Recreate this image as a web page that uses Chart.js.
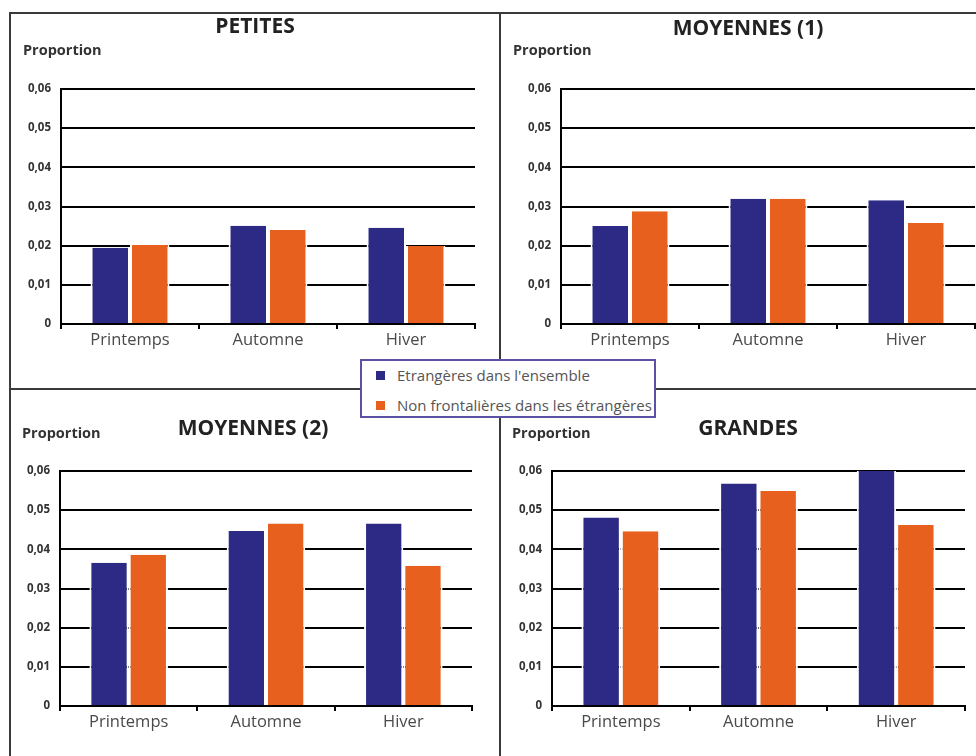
<!DOCTYPE html>
<html>
<head>
<meta charset="utf-8">
<script src="https://cdn.jsdelivr.net/npm/chart.js@4"></script>
<style>
  body { margin: 0; background: #fff; font-family: "Open Sans", sans-serif; }
  #page { position: relative; width: 976px; height: 756px; overflow: hidden; }
  .panel { position: absolute; }
  .line { position: absolute; background: #3a3a3a; z-index: 5; }
  .ylab { position: absolute; font-weight: bold; font-size: 14.5px; color: #333; z-index: 6; }
  .title { position: absolute; width: 300px; margin-left: -150px; text-align: center;
    font-weight: bold; font-size: 21px; line-height: 26px; color: #222; z-index: 6; }
  #legend { position: absolute; left: 360px; top: 359px; width: 292px; height: 55px;
    border: 2px solid #5b52a3; background: #fff; z-index: 10; }
  .item { position: absolute; left: 14px; font-size: 15px; color: #555; white-space: nowrap; }
  .item span { display: inline-block; width: 9px; height: 9px; margin-right: 12px; vertical-align: 1px; }
</style>
</head>
<body>
<div id="page">
  <div class="panel" style="left:10px;top:13px;width:490px;height:377px"><canvas id="c1"></canvas></div>
  <div class="panel" style="left:500px;top:13px;width:476px;height:377px"><canvas id="c2"></canvas></div>
  <div class="panel" style="left:10px;top:390px;width:490px;height:366px"><canvas id="c3"></canvas></div>
  <div class="panel" style="left:500px;top:390px;width:476px;height:366px"><canvas id="c4"></canvas></div>

  <div class="line" style="left:10px;top:12px;width:966px;height:2px"></div>
  <div class="line" style="left:9px;top:12px;width:2px;height:744px"></div>
  <div class="line" style="left:499px;top:12px;width:2px;height:744px"></div>
  <div class="line" style="left:10px;top:388px;width:966px;height:2px"></div>

  <div class="title" style="left:255px;top:12px">PETITES</div>
  <div class="title" style="left:748px;top:14px">MOYENNES (1)</div>
  <div class="title" style="left:253px;top:414px">MOYENNES (2)</div>
  <div class="title" style="left:748px;top:414px">GRANDES</div>

  <div class="ylab" style="left:23px;top:40px">Proportion</div>
  <div class="ylab" style="left:513px;top:40px">Proportion</div>
  <div class="ylab" style="left:22px;top:423px">Proportion</div>
  <div class="ylab" style="left:512px;top:423px">Proportion</div>

  <div id="legend">
    <div class="item" style="top:4px"><span style="background:#2d2a86"></span>Etrangères dans l'ensemble</div>
    <div class="item" style="top:34px"><span style="background:#e8601e"></span>Non frontalières dans les étrangères</div>
  </div>
</div>

<script>
// seasons on the x axis
const seasons = ["Printemps", "Automne", "Hiver"];
const seriesNames = ["Etrangères dans l'ensemble", "Non frontalières dans les étrangères"];
const yTicks = [0, 0.01, 0.02, 0.03, 0.04, 0.05, 0.06];

// values
const petitesEtr = [0.0195, 0.0251, 0.0246];
const petitesNonFr = [0.0202, 0.0240, 0.0199];
const moy1Etr = [0.0250, 0.0320, 0.0316];
const moy1NonFr = [0.0288, 0.0320, 0.0258];
const moy2Etr = [0.0366, 0.0447, 0.0466];
const moy2NonFr = [0.0386, 0.0466, 0.0358];
const grandesEtr = [0.0481, 0.0568, 0.0600];
const grandesNonFr = [0.0446, 0.0549, 0.0462];

const blue = "#2d2a86";
const orange = "#e8601e";

function makeChart(id, etr, nonFr, lay) {
  new Chart(document.getElementById(id), {
    type: "bar",
    data: {
      labels: seasons,
      datasets: [
        { label: seriesNames[0], data: etr, backgroundColor: blue },
        { label: seriesNames[1], data: nonFr, backgroundColor: orange }
      ]
    },
    options: {
      responsive: true,
      maintainAspectRatio: false,
      animation: false,
      categoryPercentage: 0.572,
      barPercentage: 1,
      datasets: {
        bar: {
          borderColor: "#fff",
          borderWidth: { left: 2, right: 2, top: 0, bottom: 0 }
        }
      },
      layout: { padding: { left: 0, right: lay.right, top: lay.top, bottom: 0 } },
      plugins: {
        legend: { display: false },
        tooltip: { enabled: false }
      },
      scales: {
        x: {
          afterFit: function(s) { s.height = lay.xh; },
          grid: { display: true, drawOnChartArea: false, drawTicks: true, tickLength: 5, color: "#000", lineWidth: 2 },
          border: { color: "#000", width: 2 },
          ticks: { color: "#4a4a4a", padding: 1, font: { family: "Open Sans", size: 16.5 } }
        },
        y: {
          min: 0,
          max: 0.06,
          afterFit: function(s) { s.width = lay.left; },
          afterBuildTicks: function(s) { s.ticks = yTicks.map(v => ({ value: v })); },
          grid: { color: "#000", lineWidth: 2, drawTicks: false },
          border: { color: "#000", width: 2 },
          ticks: {
            color: "#333",
            padding: 10,
            font: { family: "Open Sans", size: 11.5, weight: "bold" },
            callback: function(v) { return v === 0 ? "0" : v.toFixed(2).replace(".", ","); }
          }
        }
      }
    }
  });
}

makeChart("c1", petitesEtr, petitesNonFr, { left: 51, right: 25, top: 76, xh: 66 });
makeChart("c2", moy1Etr, moy1NonFr, { left: 61, right: 1, top: 76, xh: 66 });
makeChart("c3", moy2Etr, moy2NonFr, { left: 50, right: 28, top: 81, xh: 50 });
makeChart("c4", grandesEtr, grandesNonFr, { left: 52, right: 11, top: 81, xh: 50 });
</script>
</body>
</html>
